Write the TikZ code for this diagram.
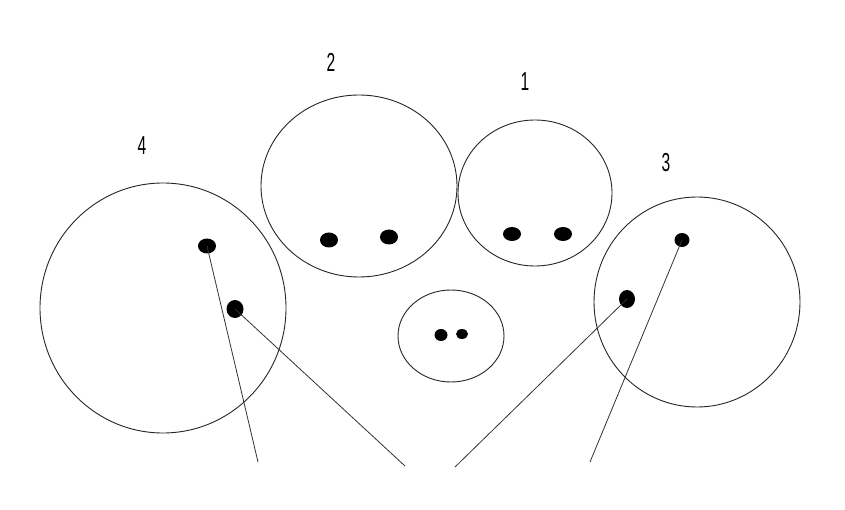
\documentclass[tikz,border=0pt]{standalone}
\usepackage{fontspec}
\setmainfont{Liberation Sans}
\begin{document}
\begin{tikzpicture}[x=1pt,y=-1pt,
  ring/.style={draw=black!85,line width=0.9pt},
  blob/.style={fill=black,draw=none,ellipse,inner sep=0pt},
  lead/.style={draw=black!80,line width=0.8pt},
  num/.style={font=\fontsize{26}{28}\selectfont,inner sep=0pt}]
\useasboundingbox[fill=white] (0,0) rectangle (845,510);
% cells
\draw[ring] (163,308) ellipse [x radius=123,y radius=125];
\draw[ring] (359,186) ellipse [x radius=98,y radius=91];
\draw[ring] (535,193) ellipse [x radius=77,y radius=73];
\draw[ring] (697,302) ellipse [x radius=103,y radius=105];
\draw[ring] (451,336) ellipse [x radius=53,y radius=46];
% dots
\fill (207,246) coordinate (a1) ellipse [x radius=9,y radius=7.5];
\fill (235,309) coordinate (a2) ellipse [x radius=8.5,y radius=9];
\fill (329,240) coordinate (b1) ellipse [x radius=9,y radius=7.5];
\fill (389,237) coordinate (b2) ellipse [x radius=9,y radius=7.5];
\fill (512,234) coordinate (c1) ellipse [x radius=9,y radius=7];
\fill (563,234) coordinate (c2) ellipse [x radius=9,y radius=7];
\fill (441,335) coordinate (d1) ellipse [x radius=6.5,y radius=6];
\fill (462,334) coordinate (d2) ellipse [x radius=6,y radius=5];
\fill (682,240) coordinate (e1) ellipse [x radius=7.5,y radius=7];
\fill (627,299) coordinate (e2) ellipse [x radius=8,y radius=9];
% free ends of the leader lines
\coordinate (f1) at (258,462);
\coordinate (f2) at (405,466);
\coordinate (f3) at (455,467);
\coordinate (f4) at (590,462);
\draw[lead] (a1) -- (f1);
\draw[lead] (a2) -- (f2);
\draw[lead] (e2) -- (f3);
\draw[lead] (e1) -- (f4);
% labels
\node[num] (l4) at (142,146) {\scalebox{0.6}[1]{4}};
\node[num] (l2) at (331,62) {\scalebox{0.6}[1]{2}};
\node[num] (l1) at (525,82) {\scalebox{0.6}[1]{1}};
\node[num] (l3) at (666,163) {\scalebox{0.6}[1]{3}};
\end{tikzpicture}
\end{document}
